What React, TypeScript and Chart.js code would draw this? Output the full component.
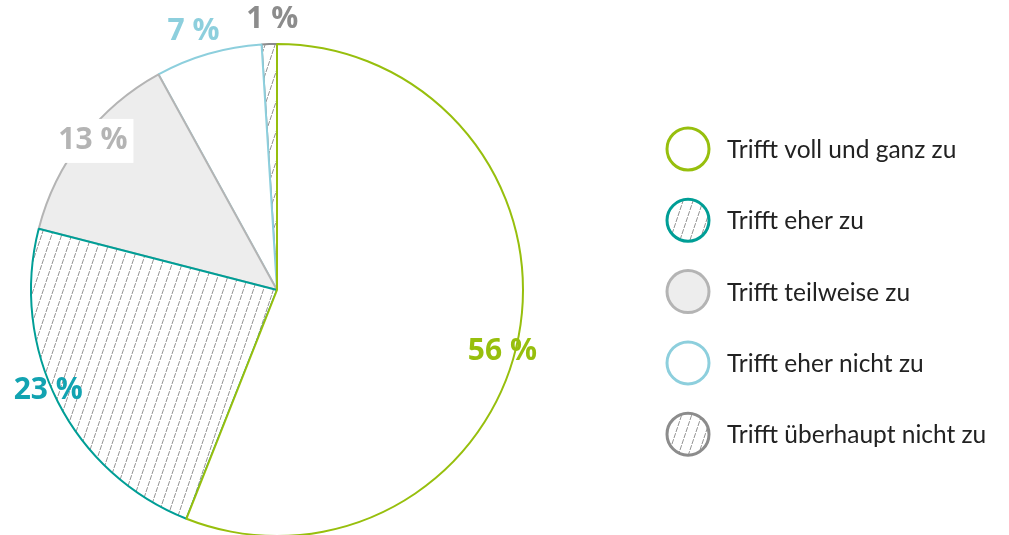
import React, { useEffect, useRef } from "react";
import { Chart, registerables } from "chart.js";

Chart.register(...registerables);

const categories = [
  "Trifft voll und ganz zu",
  "Trifft eher zu",
  "Trifft teilweise zu",
  "Trifft eher nicht zu",
  "Trifft überhaupt nicht zu",
];
const values = [56, 23, 13, 7, 1];
const valueLabels = ["56 %", "23 %", "13 %", "7 %", "1 %"];

const borderColors = ["#97bf0d", "#009e96", "#b4b4b4", "#8dcfdd", "#8c8c8c"];
const labelColors = ["#97bf0d", "#12a3b1", "#b4b4b4", "#8dcfdd", "#8c8c8c"];
const fillKinds = ["white", "hatch", "grey", "white", "hatch"];
// label placement: angle shift (deg) from slice middle, radius factor
const labelPlacement = [
  { shift: 4.5, r: 0.95, box: false },
  { shift: 3.4, r: 1.015, box: false },
  { shift: 1.2, r: 0.963, box: true },
  { shift: -1.7, r: 1.105, box: false },
  { shift: 0.8, r: 1.1, box: false },
];

function makeHatch(): CanvasPattern | string {
  const c = document.createElement("canvas");
  c.width = 10;
  c.height = 30;
  const g = c.getContext("2d");
  if (!g) return "#fff";
  g.fillStyle = "#ffffff";
  g.fillRect(0, 0, 10, 30);
  g.strokeStyle = "#949494";
  g.lineWidth = 1;
  g.setLineDash([5.1, 1.22]);
  for (const off of [-10, 0, 10]) {
    g.beginPath();
    g.moveTo(off, 30);
    g.lineTo(off + 10, 0);
    g.stroke();
  }
  return g.createPattern(c, "repeat") || "#fff";
}

export default function App() {
  const ref = useRef<HTMLCanvasElement | null>(null);

  useEffect(() => {
    const canvas = ref.current;
    if (!canvas) return;
    const hatch = makeHatch();
    const fills = fillKinds.map((k) =>
      k === "hatch" ? hatch : k === "grey" ? "#ededed" : "#ffffff"
    );

    const reverseDraw = {
      id: "reverseDraw",
      beforeDatasetDraw(chart: any, args: any) {
        const meta = args.meta;
        const ctx = chart.ctx;
        for (let i = meta.data.length - 1; i >= 0; i--) {
          meta.data[i].draw(ctx, chart.chartArea);
        }
        return false;
      },
    };

    const labelsAndLegend = {
      id: "labelsAndLegend",
      afterDraw(chart: any) {
        const ctx = chart.ctx as CanvasRenderingContext2D;
        const meta = chart.getDatasetMeta(0);
        ctx.save();
        // value labels
        ctx.font = "bold 30px 'Open Sans', sans-serif";
        ctx.textAlign = "center";
        ctx.textBaseline = "middle";
        meta.data.forEach((arc: any, i: number) => {
          const p = arc.getProps(["x", "y", "startAngle", "endAngle", "outerRadius"], true);
          const mid = (p.startAngle + p.endAngle) / 2 + (labelPlacement[i].shift * Math.PI) / 180;
          const r = p.outerRadius * labelPlacement[i].r;
          const x = p.x + Math.cos(mid) * r;
          const y = p.y + Math.sin(mid) * r;
          if (labelPlacement[i].box) {
            const w = ctx.measureText(valueLabels[i]).width;
            ctx.fillStyle = "#ffffff";
            ctx.fillRect(x - w / 2 - 6, y - 22, w + 12, 44);
          }
          ctx.fillStyle = labelColors[i];
          ctx.fillText(valueLabels[i], x, y);
        });
        // legend
        const lx = 688;
        const ly0 = 149;
        const step = 71.3;
        ctx.textAlign = "left";
        ctx.font = "400 24.5px Lato, sans-serif";
        categories.forEach((cat, i) => {
          const y = ly0 + i * step;
          ctx.beginPath();
          ctx.arc(lx, y, 21, 0, Math.PI * 2);
          ctx.fillStyle = fills[i] as any;
          ctx.fill();
          ctx.lineWidth = 3;
          ctx.strokeStyle = borderColors[i];
          ctx.stroke();
          ctx.fillStyle = "#222222";
          ctx.fillText(cat, 727, y + 1);
        });
        ctx.restore();
      },
    };

    const chart = new Chart(canvas, {
      type: "pie",
      data: {
        labels: categories,
        datasets: [
          {
            data: values,
            backgroundColor: fills as any,
            borderColor: borderColors,
            borderWidth: 2,
            hoverOffset: 0,
            offset: 0,
          },
        ],
      },
      options: {
        responsive: false,
        animation: false,
        events: [],
        layout: { padding: { left: 30, top: 43, right: 485, bottom: 23 } },
        plugins: {
          legend: { display: false },
          tooltip: { enabled: false },
        },
      },
      plugins: [reverseDraw, labelsAndLegend],
    });
    return () => chart.destroy();
  }, []);

  return (
    <div
      style={{
        position: "fixed",
        left: 0,
        top: 0,
        width: 1009,
        height: 535,
        overflow: "hidden",
        background: "#fff",
      }}
    >
      <canvas ref={ref} width={1009} height={560} style={{ display: "block" }} />
    </div>
  );
}
